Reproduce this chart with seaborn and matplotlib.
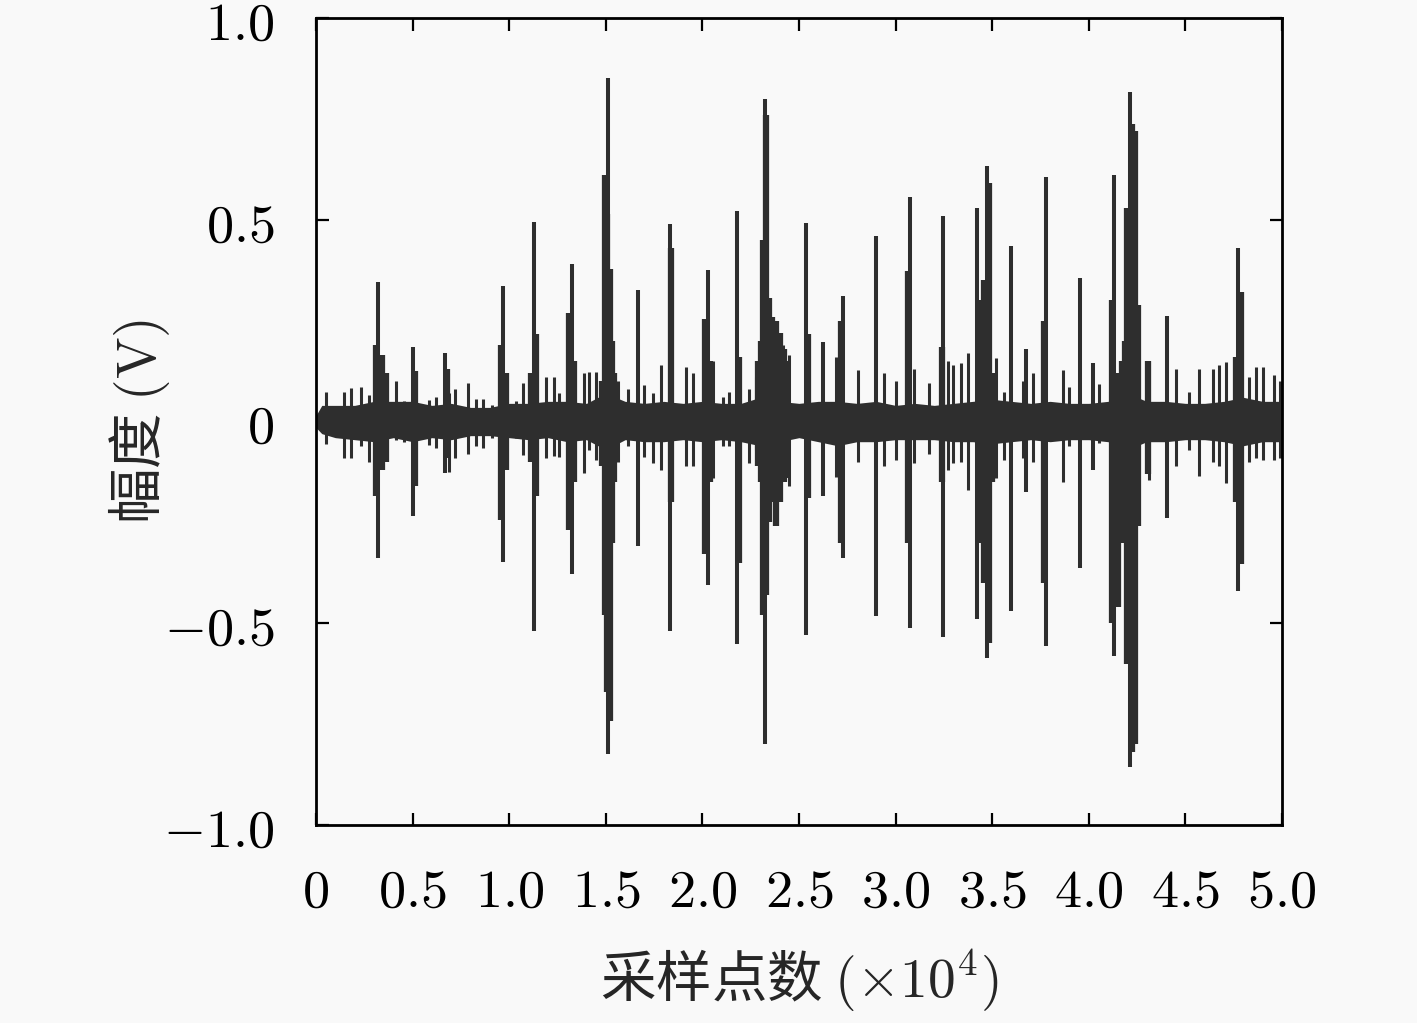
import numpy as np
import pandas as pd
import seaborn as sns
import matplotlib.pyplot as plt

# 主脉冲: 位置 (x10^4 采样点), 正峰, 负峰 (V)
peak_x  = [0.323, 0.504, 0.668, 0.970, 1.128, 1.323, 1.510, 1.668, 1.832, 2.027,
           2.178, 2.324, 2.536, 2.626, 2.729, 2.897, 3.075, 3.247, 3.423, 3.471,
           3.597, 3.673, 3.777, 3.954, 4.020, 4.130, 4.213, 4.403, 4.774]
peak_hi = [0.346, 0.184, 0.171, 0.337, 0.495, 0.391, 0.852, 0.327, 0.489, 0.376,
           0.521, 0.800, 0.491, 0.197, 0.310, 0.460, 0.557, 0.510, 0.528, 0.634,
           0.434, 0.180, 0.605, 0.356, 0.145, 0.610, 0.817, 0.262, 0.430]
peak_lo = [-0.338, -0.235, -0.127, -0.347, -0.520, -0.377, -0.823, -0.308, -0.520, -0.406,
           -0.551, -0.798, -0.529, -0.185, -0.338, -0.483, -0.512, -0.533, -0.490, -0.587,
           -0.470, -0.175, -0.557, -0.364, -0.120, -0.580, -0.856, -0.240, -0.419]

# 脉冲附近的余振
tail_x  = [0.310, 0.340, 0.360, 0.515, 0.680, 0.960, 0.985, 1.115, 1.140, 1.310,
           1.335, 1.480, 1.495, 1.505, 1.520, 1.530, 1.545, 1.840, 2.015, 2.040,
           2.190, 2.290, 2.305, 2.315, 2.330, 2.345, 2.360, 2.380, 2.400, 2.420,
           2.440, 2.545, 2.715, 3.065, 3.240, 3.445, 3.460, 3.485, 3.500, 3.770,
           4.120, 4.150, 4.170, 4.190, 4.200, 4.225, 4.240, 4.255, 4.306, 4.760,
           4.790]
tail_hi = [0.190, 0.165, 0.120, 0.126, 0.130, 0.190, 0.120, 0.120, 0.216, 0.268,
           0.150, 0.100, 0.610, 0.515, 0.378, 0.200, 0.120, 0.430, 0.255, 0.150,
           0.160, 0.150, 0.200, 0.450, 0.760, 0.307, 0.260, 0.250, 0.220, 0.180,
           0.150, 0.216, 0.250, 0.372, 0.184, 0.300, 0.350, 0.592, 0.120, 0.250,
           0.300, 0.120, 0.150, 0.200, 0.530, 0.737, 0.720, 0.290, 0.150, 0.160,
           0.320]
tail_lo = [-0.185, -0.120, -0.100, -0.160, -0.090, -0.244, -0.120, -0.100, -0.185, -0.270,
           -0.150, -0.110, -0.480, -0.671, -0.743, -0.300, -0.150, -0.200, -0.328, -0.150,
           -0.350, -0.110, -0.150, -0.480, -0.430, -0.250, -0.200, -0.260, -0.200, -0.150,
           -0.140, -0.190, -0.300, -0.300, -0.150, -0.300, -0.400, -0.548, -0.150, -0.400,
           -0.500, -0.460, -0.300, -0.300, -0.600, -0.820, -0.800, -0.260, -0.130, -0.200,
           -0.354]

# 背景噪声中的小毛刺
burr_x  = [0.052, 0.147, 0.181, 0.233, 0.276, 0.414, 0.457, 0.587, 0.621, 0.690,
           0.720, 0.785, 0.828, 0.863, 0.910, 1.035, 1.070, 1.190, 1.234, 1.259,
           1.389, 1.415, 1.449, 1.561, 1.613, 1.699, 1.742, 1.786, 1.915, 1.949,
           2.053, 2.105, 2.139, 2.243, 2.277, 2.415, 2.450, 2.691, 2.803, 2.941,
           3.002, 3.096, 3.174, 3.269, 3.295, 3.338, 3.373, 3.519, 3.562, 3.657,
           3.709, 3.865, 3.900, 4.055, 4.314, 4.452, 4.521, 4.572, 4.641, 4.676,
           4.710, 4.831, 4.866, 4.900, 4.960, 4.990]
burr_hi = [0.074, 0.074, 0.082, 0.086, 0.065, 0.100, 0.050, 0.053, 0.060, 0.070,
           0.080, 0.095, 0.057, 0.057, 0.040, 0.050, 0.095, 0.110, 0.110, 0.070,
           0.120, 0.123, 0.123, 0.100, 0.080, 0.090, 0.070, 0.140, 0.135, 0.120,
           0.150, 0.060, 0.074, 0.080, 0.110, 0.190, 0.165, 0.160, 0.128, 0.120,
           0.100, 0.130, 0.095, 0.150, 0.140, 0.144, 0.170, 0.157, 0.074, 0.100,
           0.120, 0.128, 0.086, 0.094, 0.148, 0.130, 0.074, 0.130, 0.130, 0.140,
           0.148, 0.110, 0.136, 0.136, 0.115, 0.100]
burr_lo = [-0.055, -0.090, -0.090, -0.060, -0.100, -0.045, -0.050, -0.057, -0.066, -0.124,
           -0.090, -0.080, -0.060, -0.066, -0.042, -0.042, -0.083, -0.090, -0.086, -0.087,
           -0.128, -0.070, -0.095, -0.100, -0.060, -0.087, -0.104, -0.120, -0.110, -0.110,
           -0.140, -0.060, -0.060, -0.104, -0.070, -0.100, -0.160, -0.137, -0.100, -0.110,
           -0.096, -0.104, -0.080, -0.120, -0.104, -0.100, -0.170, -0.140, -0.096, -0.090,
           -0.100, -0.150, -0.060, -0.054, -0.145, -0.110, -0.070, -0.136, -0.100, -0.110,
           -0.153, -0.100, -0.090, -0.096, -0.096, -0.090]

# 噪声主体的包络
band_x  = [0.0, 0.03, 0.1, 0.2, 0.3, 0.4, 0.5, 0.6, 0.7, 0.8, 0.9, 1.0, 1.1, 1.2, 1.3,
           1.4, 1.5, 1.6, 1.7, 1.8, 1.9, 2.0, 2.1, 2.2, 2.3, 2.4, 2.5, 2.6, 2.7, 2.8,
           2.9, 3.0, 3.1, 3.2, 3.3, 3.4, 3.5, 3.6, 3.7, 3.8, 3.9, 4.0, 4.1, 4.2, 4.3,
           4.4, 4.5, 4.6, 4.7, 4.8, 4.9, 5.0]
band_hi = [0.015, 0.040, 0.040, 0.040, 0.050, 0.050, 0.050, 0.040, 0.045, 0.035, 0.035,
           0.045, 0.045, 0.050, 0.050, 0.045, 0.070, 0.050, 0.045, 0.050, 0.045, 0.050,
           0.045, 0.045, 0.060, 0.050, 0.045, 0.050, 0.050, 0.045, 0.050, 0.040, 0.045,
           0.040, 0.045, 0.050, 0.055, 0.050, 0.045, 0.050, 0.045, 0.045, 0.050, 0.070,
           0.050, 0.050, 0.045, 0.045, 0.050, 0.060, 0.050, 0.050]
band_lo = [-0.015, -0.030, -0.040, -0.045, -0.050, -0.040, -0.050, -0.040, -0.045, -0.035, -0.035,
           -0.040, -0.045, -0.040, -0.050, -0.045, -0.070, -0.045, -0.050, -0.050, -0.045, -0.050,
           -0.045, -0.050, -0.060, -0.050, -0.040, -0.050, -0.060, -0.050, -0.050, -0.045, -0.045,
           -0.045, -0.050, -0.050, -0.055, -0.050, -0.045, -0.050, -0.045, -0.045, -0.050, -0.070,
           -0.050, -0.050, -0.045, -0.045, -0.050, -0.060, -0.050, -0.050]

x_ticks = [0, 0.5, 1.0, 1.5, 2.0, 2.5, 3.0, 3.5, 4.0, 4.5, 5.0]
x_tick_labels = ['0', '0.5', '1.0', '1.5', '2.0', '2.5', '3.0', '3.5', '4.0', '4.5', '5.0']
y_ticks = [-1.0, -0.5, 0, 0.5, 1.0]
y_tick_labels = ['-1.0', '-0.5', '0', '0.5', '1.0']

rows = []
for kind, xs, his, los in [('burr', burr_x, burr_hi, burr_lo),
                           ('tail', tail_x, tail_hi, tail_lo),
                           ('peak', peak_x, peak_hi, peak_lo)]:
    for i, (x, h, l) in enumerate(zip(xs, his, los)):
        rows.append((kind, kind + str(i), x, h))
        rows.append((kind, kind + str(i), x, l))
df = pd.DataFrame(rows, columns=['kind', 'sid', 'x', 'v'])

sns.set_style('ticks')
plt.rcParams['font.family'] = ['Noto Sans CJK SC', 'DejaVu Sans']
plt.rcParams['mathtext.fontset'] = 'cm'
plt.rcParams['lines.solid_capstyle'] = 'butt'

line_color = '#2e2e2e'
fig = plt.figure(figsize=(14.17, 10.23), dpi=100, facecolor='#f9f9f9')
ax = fig.add_axes([0.223, 0.1935, 0.6817, 0.7889])
ax.set_facecolor('#f9f9f9')

ax.fill_between(band_x, band_lo, band_hi, color=line_color, lw=0)
sns.lineplot(data=df, x='x', y='v', units='sid', estimator=None, sort=False,
             size='kind', sizes={'burr': 2.2, 'tail': 4.5, 'peak': 2.9},
             color=line_color, legend=False, ax=ax)

ax.set_xlim(0, 5.0)
ax.set_ylim(-1.0, 1.0)
ax.set_xticks(x_ticks, ['$' + s + '$' for s in x_tick_labels])
ax.set_yticks(y_ticks, ['$' + s + '$' for s in y_tick_labels])
ax.tick_params(direction='in', top=True, right=True, length=9, width=1.6,
               labelsize=39, colors='black')
ax.tick_params(axis='x', pad=28)
ax.tick_params(axis='y', pad=30)
for sp in ax.spines.values():
    sp.set_linewidth(2.0)
    sp.set_color('black')

ax.set_xlabel('采样点数 $(\\times 10^4)$', fontsize=40, labelpad=20)
ax.set_ylabel('幅度 $(\\mathrm{V})$', fontsize=40, labelpad=-6)

fig.savefig('out.png', dpi=100, facecolor=fig.get_facecolor())
